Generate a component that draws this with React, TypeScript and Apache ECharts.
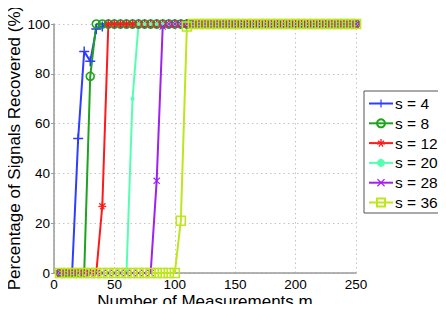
import React, { useEffect, useRef } from "react";
import * as echarts from "echarts";

const measurements = [5, 10, 15, 20, 25, 30, 35, 40, 45, 50, 55, 60, 65, 70, 75, 80, 85, 90, 95, 100, 105, 110, 115, 120, 125, 130, 135, 140, 145, 150, 155, 160, 165, 170, 175, 180, 185, 190, 195, 200, 205, 210, 215, 220, 225, 230, 235, 240, 245, 250];

const s4 = [0, 0, 0, 54, 89, 85, 98, 99, 100, 100, 100, 100, 100, 100, 100, 100, 100, 100, 100, 100, 100, 100, 100, 100, 100, 100, 100, 100, 100, 100, 100, 100, 100, 100, 100, 100, 100, 100, 100, 100, 100, 100, 100, 100, 100, 100, 100, 100, 100, 100];
const s8 = [0, 0, 0, 0, 0, 79, 100, 100, 100, 100, 100, 100, 100, 100, 100, 100, 100, 100, 100, 100, 100, 100, 100, 100, 100, 100, 100, 100, 100, 100, 100, 100, 100, 100, 100, 100, 100, 100, 100, 100, 100, 100, 100, 100, 100, 100, 100, 100, 100, 100];
const s12 = [0, 0, 0, 0, 0, 0, 0, 27, 100, 100, 100, 100, 100, 100, 100, 100, 100, 100, 100, 100, 100, 100, 100, 100, 100, 100, 100, 100, 100, 100, 100, 100, 100, 100, 100, 100, 100, 100, 100, 100, 100, 100, 100, 100, 100, 100, 100, 100, 100, 100];
const s20 = [0, 0, 0, 0, 0, 0, 0, 0, 0, 0, 0, 0, 70, 100, 100, 100, 100, 100, 100, 100, 100, 100, 100, 100, 100, 100, 100, 100, 100, 100, 100, 100, 100, 100, 100, 100, 100, 100, 100, 100, 100, 100, 100, 100, 100, 100, 100, 100, 100, 100];
const s28 = [0, 0, 0, 0, 0, 0, 0, 0, 0, 0, 0, 0, 0, 0, 0, 0, 37, 99, 100, 100, 100, 100, 100, 100, 100, 100, 100, 100, 100, 100, 100, 100, 100, 100, 100, 100, 100, 100, 100, 100, 100, 100, 100, 100, 100, 100, 100, 100, 100, 100];
const s36 = [0, 0, 0, 0, 0, 0, 0, 0, 0, 0, 0, 0, 0, 0, 0, 0, 0, 0, 0, 0, 21, 99, 100, 100, 100, 100, 100, 100, 100, 100, 100, 100, 100, 100, 100, 100, 100, 100, 100, 100, 100, 100, 100, 100, 100, 100, 100, 100, 100, 100];

const seriesNames = ["s = 4", "s = 8", "s = 12", "s = 20", "s = 28", "s = 36"];
const seriesValues = [s4, s8, s12, s20, s28, s36];
const seriesColors = ["#2e3dff", "#1fa31f", "#ff1a1a", "#55ffb0", "#a020f0", "#bde61e"];

const xTitle = "Number of Measurements m";
const yTitle = "Percentage of Signals Recovered (%)";

const PLUS = "path://M4.25,0H5.75V4.25H10V5.75H5.75V10H4.25V5.75H0V4.25H4.25Z";
const CROSS = "path://M1.1,0L5,3.9L8.9,0L10,1.1L6.1,5L10,8.9L8.9,10L5,6.1L1.1,10L0,8.9L3.9,5L0,1.1Z";
const STAR = "path://M4.2,0H5.8V3.1L8.4,1.3L9.3,2.6L6.6,4.4L9.9,5.1L9.5,6.6L6.3,5.9L8.1,8.6L6.8,9.5L5,6.8L3.2,9.5L1.9,8.6L3.7,5.9L0.5,6.6L0.1,5.1L3.4,4.4L0.7,2.6L1.6,1.3L4.2,3.1Z";

const symbols = [PLUS, "circle", STAR, "circle", CROSS, "rect"];
const symbolSizes = [10, 8, 8, 4, 7, 9];
const hollow = [false, true, false, false, false, true];

const FONT = "Liberation Sans";

export default function App() {
  const ref = useRef<HTMLDivElement>(null);
  useEffect(() => {
    if (!ref.current) return;
    const chart = echarts.init(ref.current, undefined, { renderer: "svg" });
    const series = seriesNames.map((name, i) => ({
      name,
      type: "line",
      data: measurements.map((m, j) => [m, seriesValues[i][j]]),
      symbol: symbols[i],
      symbolSize: symbolSizes[i],
      showAllSymbol: true,
      clip: false,
      lineStyle: { color: seriesColors[i], width: 2, type: "solid" },
      itemStyle: hollow[i]
        ? { color: "rgba(255,255,255,0)", borderColor: seriesColors[i], borderWidth: 1.6 }
        : { color: seriesColors[i], borderWidth: 0 },
      emphasis: { disabled: true },
    }));
    const axisLabel = { fontFamily: FONT, fontSize: 13.5, color: "#000000" };
    const splitLine = { show: true, lineStyle: { color: "#c4c4c4", type: [1.5, 3], width: 1 } };
    chart.setOption({
      animation: false,
      backgroundColor: "#ffffff",
      grid: { left: 54, right: 90, top: 24, bottom: 39, outerBoundsMode: "none", containLabel: false },
      legend: {
        orient: "vertical",
        left: 364,
        top: 91,
        padding: [4.5, 9, 2.5, 4],
        backgroundColor: "#ffffff",
        borderColor: "#555555",
        borderWidth: 1,
        itemWidth: 24,
        itemHeight: 10,
        itemGap: 3.8,
        data: seriesNames,
        textStyle: { fontFamily: FONT, fontSize: 15.5, lineHeight: 15, color: "#000000", padding: [0, 0, 0, -3] },
      },
      xAxis: {
        type: "value",
        min: 0,
        max: 250,
        interval: 50,
        axisLine: { show: true, lineStyle: { color: "#9a9a9a", width: 1.5 } },
        axisTick: { show: false },
        axisLabel: { ...axisLabel, margin: 4 },
        splitLine,
      },
      yAxis: {
        type: "value",
        min: 0,
        max: 100,
        interval: 20,
        axisLine: { show: true, lineStyle: { color: "#9a9a9a", width: 1.5 } },
        axisTick: { show: true, inside: false, length: 3, lineStyle: { color: "#9a9a9a" } },
        axisLabel: { ...axisLabel, margin: 4 },
        splitLine,
      },
      graphic: [
        {
          type: "text",
          x: 205,
          y: 301,
          style: { text: xTitle, fontFamily: FONT, fontSize: 17, fill: "#000000", align: "center", verticalAlign: "middle" },
        },
        {
          type: "text",
          x: 14,
          y: 148,
          rotation: Math.PI / 2,
          style: { text: yTitle, fontFamily: FONT, fontSize: 17, fill: "#000000", align: "center", verticalAlign: "middle" },
        },
      ],
      series,
    });
    return () => chart.dispose();
  }, []);
  return <div ref={ref} style={{ width: 446, height: 312, margin: -8 }} />;
}
